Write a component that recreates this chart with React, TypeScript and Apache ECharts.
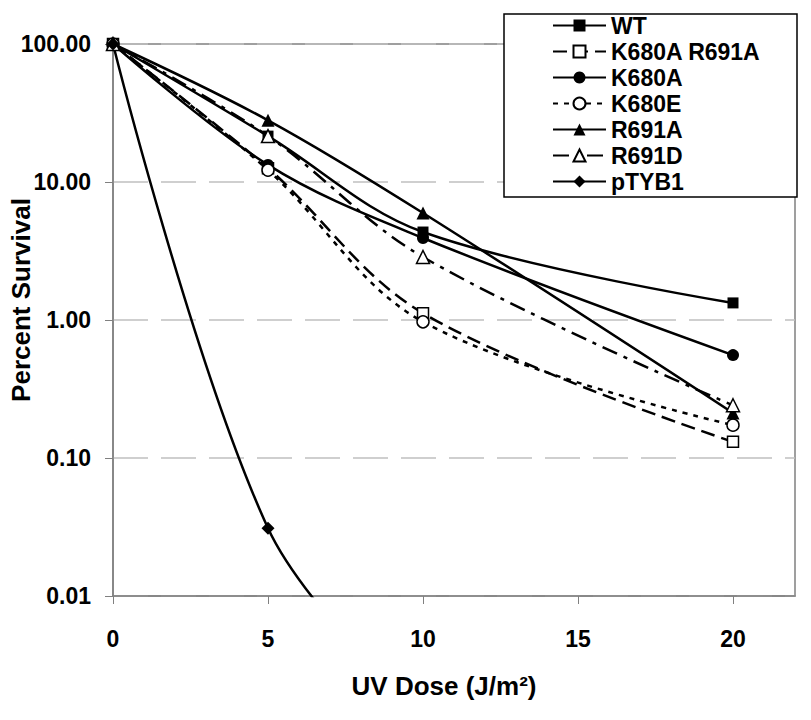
import React, { useEffect, useRef } from 'react';
import * as echarts from 'echarts';

const doses = [0, 5, 10, 20];
const wt = [100, 21.5, 4.34, 1.33];
const k680aR691a = [100, 12.6, 1.12, 0.131];
const k680a = [100, 13.3, 3.93, 0.557];
const k680e = [100, 12.2, 0.97, 0.173];
const r691a = [100, 28.0, 5.96, 0.212];
const r691d = [100, 21.5, 2.86, 0.241];
const pTYB1Doses = [0, 5, 10];
const pTYB1 = [100, 0.031, 0.0013];
const xTicks = [0, 5, 10, 15, 20];

const FONT = '"Liberation Sans", Arial, sans-serif';

type Def = { name: string; x: number[]; y: number[]; symbol: string; filled: boolean; dash: any; size: number };

const defs: Def[] = [
  { name: 'WT', x: doses, y: wt, symbol: 'rect', filled: true, dash: 'solid', size: 11 },
  { name: 'K680A R691A', x: doses, y: k680aR691a, symbol: 'rect', filled: false, dash: [14, 7], size: 11 },
  { name: 'K680A', x: doses, y: k680a, symbol: 'circle', filled: true, dash: 'solid', size: 12 },
  { name: 'K680E', x: doses, y: k680e, symbol: 'circle', filled: false, dash: [5, 6], size: 12 },
  { name: 'R691A', x: doses, y: r691a, symbol: 'triangle', filled: true, dash: 'solid', size: 13 },
  { name: 'R691D', x: doses, y: r691d, symbol: 'triangle', filled: false, dash: [16, 7, 4, 7], size: 13 },
  { name: 'pTYB1', x: pTYB1Doses, y: pTYB1, symbol: 'diamond', filled: true, dash: 'solid', size: 13 },
];

export default function App() {
  const ref = useRef<HTMLDivElement>(null);
  useEffect(() => {
    if (!ref.current) return;
    const chart = echarts.init(ref.current, null, { renderer: 'svg' });
    const series = defs.map((d) => ({
      name: d.name,
      type: 'line',
      data: d.x.map((xv, i) => [xv, d.y[i]]),
      smooth: 0.35,
      clip: true,
      symbol: d.symbol,
      symbolSize: d.size,
      lineStyle: { color: '#000', width: 2.5, type: d.dash },
      itemStyle: {
        color: d.filled ? '#000' : '#fff',
        borderColor: '#000',
        borderWidth: d.filled ? 0 : 1.5,
      },
      emphasis: { disabled: true },
    }));
    chart.setOption({
      animation: false,
      backgroundColor: '#fff',
      grid: {
        left: 113, right: 16, top: 44, bottom: 124,
        show: true, borderColor: '#808080', borderWidth: 1.5, backgroundColor: 'transparent',
      },
      xAxis: {
        type: 'value', min: 0, max: 22, interval: 5,
        axisLine: { show: true, lineStyle: { color: '#808080', width: 1.5 } },
        axisTick: { show: true, length: 8, lineStyle: { color: '#808080', width: 1 }, customValues: xTicks },
        axisLabel: {
          customValues: xTicks, margin: 31,
          color: '#000', fontFamily: FONT, fontWeight: 'bold', fontSize: 23,
          formatter: (v: number) => String(v),
        },
        splitLine: { show: false },
      },
      yAxis: {
        type: 'log', logBase: 10, min: 0.01, max: 100,
        axisLine: { show: true, lineStyle: { color: '#808080', width: 1.5 } },
        axisTick: { show: true, length: 8, lineStyle: { color: '#808080', width: 1 } },
        axisLabel: {
          margin: 22, color: '#000', fontFamily: FONT, fontWeight: 'bold', fontSize: 23,
          formatter: (v: number) => v.toFixed(2),
        },
        splitLine: { show: true, lineStyle: { color: '#c0c0c0', width: 1.5, type: [35, 13] } },
      },
      legend: {
        data: defs.map((d) => d.name),
        orient: 'vertical',
        left: 547, top: 9,
        itemWidth: 53, itemHeight: 15, itemGap: 3,
        textStyle: { color: '#000', fontFamily: FONT, fontWeight: 'bold', fontSize: 23, lineHeight: 20 },
        z: 10,
      },
      graphic: [
        { type: 'rect', z: 5, shape: { x: 504, y: 14, width: 293, height: 183 }, style: { fill: '#fff', stroke: '#000', lineWidth: 1.5 } },
        {
          type: 'text', x: 444, y: 686, z: 5,
          style: { text: 'UV Dose (J/m²)', fill: '#000', font: `bold 26px ${FONT}`, textAlign: 'center', textVerticalAlign: 'middle' },
        },
        {
          type: 'text', x: 21, y: 300, rotation: Math.PI / 2, z: 5,
          style: { text: 'Percent Survival', fill: '#000', font: `bold 26px ${FONT}`, textAlign: 'center', textVerticalAlign: 'middle' },
        },
      ],
      series,
    });
    return () => chart.dispose();
  }, []);
  return <div ref={ref} style={{ position: 'fixed', left: 0, top: 0, width: 811, height: 720 }} />;
}
